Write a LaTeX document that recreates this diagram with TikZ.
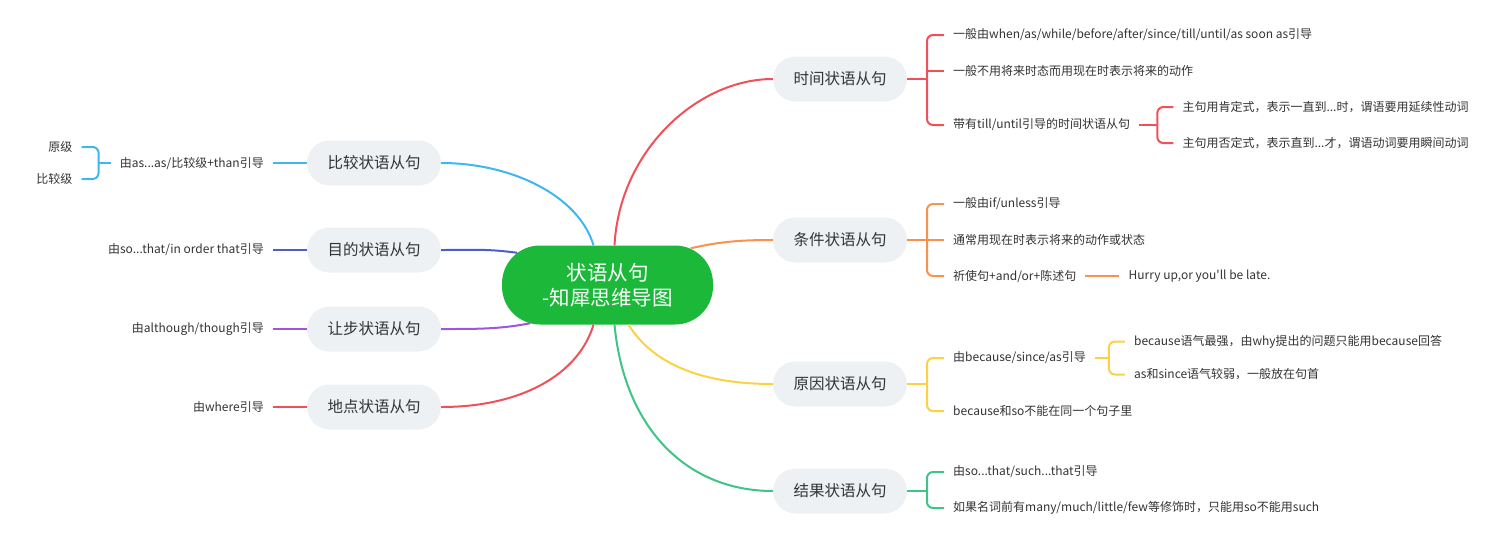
\documentclass[tikz,border=0pt]{standalone}
\usepackage{fontspec}
\setmainfont{Noto Sans CJK SC}[Ligatures=TeXOff]
\usetikzlibrary{positioning,calc}
\definecolor{rootgreen}{HTML}{1BB83A}
\definecolor{pillgray}{HTML}{EEF1F4}
\definecolor{inktext}{HTML}{333333}
\definecolor{mapred}{HTML}{F05159}
\definecolor{mapblue}{HTML}{3DB6F2}
\definecolor{mapindigo}{HTML}{4D5FC7}
\definecolor{mappurple}{HTML}{A056DC}
\definecolor{maporange}{HTML}{F7934C}
\definecolor{mapyellow}{HTML}{FBD243}
\definecolor{mapgreen}{HTML}{3EC585}

\begin{document}
\begin{tikzpicture}[x=1pt,y=-1pt,
    root/.style={fill=rootgreen,text=white,rounded corners=38pt,minimum width=211pt,
                 minimum height=79pt,align=center,font=\fontsize{20.5}{25}\selectfont},
    topic/.style={fill=pillgray,text=inktext,rounded corners=22.5pt,minimum width=134pt,
                  minimum height=45pt,font=\fontsize{15.5}{18}\selectfont},
    leaf/.style={text=inktext,inner xsep=9pt,inner ysep=2pt,font=\fontsize{12}{14}\selectfont},
    rightleaf/.style={leaf,anchor=west},
    leftleaf/.style={leaf,anchor=east},
    link/.style={line width=2pt},
    brace/.style={line width=2pt,rounded corners=6pt}]
  \useasboundingbox (0,0) rectangle (1498,544);

  % centre and main topics
  \node[root] (root) at (607.5,285) {状语从句\\-知犀思维导图};
  \node[topic] (time)   at (840,79)  {时间状语从句};
  \node[topic] (cond)   at (840,240) {条件状语从句};
  \node[topic] (cause)  at (840,384) {原因状语从句};
  \node[topic] (result) at (840,491) {结果状语从句};
  \node[topic] (comp)   at (374,163) {比较状语从句};
  \node[topic] (purp)   at (374,250) {目的状语从句};
  \node[topic] (conc)   at (374,329) {让步状语从句};
  \node[topic] (place)  at (374,407) {地点状语从句};

  \draw[link,mapred] ([xshift=7pt]root.north) .. controls +(5,-95) and +(-75,0) .. (time.west);
  \draw[link,maporange] ($(root.north east)+(-22.5,3)$) .. controls +(30,-7) and +(-30,0) .. (cond.west);
  \draw[link,mapyellow] ([xshift=21pt]root.south) .. controls +(25,40) and +(-70,0) .. (cause.west);
  \draw[link,mapgreen] ([xshift=7pt]root.south) .. controls +(10,105) and +(-85,0) .. (result.west);
  \draw[link,mapblue] ([xshift=-14pt]root.north) .. controls +(-15,-50) and +(70,0) .. (comp.east);
  \draw[link,mapindigo] ($(root.north west)+(15.5,7.5)$) .. controls +(-30,-4) and +(35,0) .. (purp.east);
  \draw[link,mappurple] ($(root.south west)+(28.5,-1.5)$) .. controls +(-30,6) and +(35,0) .. (conc.east);
  \draw[link,mapred] ([xshift=-14pt]root.south) .. controls +(-15,50) and +(80,0) .. (place.east);

  % time
  \node[rightleaf] (t1) at (944,35)  {一般由when/as/while/before/after/since/till/until/as soon as引导};
  \node[rightleaf] (t2) at (944,71)  {一般不用将来时态而用现在时表示将来的动作};
  \node[rightleaf] (t3) at (944,125) {带有till/until引导的时间状语从句};
  \coordinate (tj) at (927,79);
  \draw[brace,mapred] (time.east) -- (tj);
  \draw[brace,mapred] (t1.west) -| (tj) |- (t3.west);
  \draw[brace,mapred] (tj |- t2.west) -- (t2.west);
  \coordinate (t3j) at ($(t3.east)+(18,0)$);
  \node[rightleaf] (t31) at ($(t3j)+(16,-18)$) {主句用肯定式，表示一直到...时，谓语要用延续性动词};
  \node[rightleaf] (t32) at ($(t3j)+(16,18)$)  {主句用否定式，表示直到...才，谓语动词要用瞬间动词};
  \draw[brace,mapred] (t3.east) -- (t3j);
  \draw[brace,mapred] (t31.west) -| (t3j) |- (t32.west);

  % condition
  \node[rightleaf] (c1) at (944,204) {一般由if/unless引导};
  \node[rightleaf] (c2) at (944,240) {通常用现在时表示将来的动作或状态};
  \node[rightleaf] (c3) at (944,276) {祈使句+and/or+陈述句};
  \coordinate (cj) at (927,240);
  \draw[brace,maporange] (cond.east) -- (c2.west);
  \draw[brace,maporange] (c1.west) -| (cj) |- (c3.west);
  \node[rightleaf] (c31) at ($(c3.east)+(34,0)$) {Hurry up,or you'll be late.};
  \draw[brace,maporange] (c3.east) -- (c31.west);

  % cause
  \node[rightleaf] (a1) at (944,358) {由because/since/as引导};
  \node[rightleaf] (a2) at (944,411) {because和so不能在同一个句子里};
  \coordinate (aj) at (927,384);
  \draw[brace,mapyellow] (cause.east) -- (aj);
  \draw[brace,mapyellow] (a1.west) -| (aj) |- (a2.west);
  \coordinate (a1j) at ($(a1.east)+(14,0)$);
  \node[rightleaf] (a11) at ($(a1j)+(16,-16.5)$) {because语气最强，由why提出的问题只能用because回答};
  \node[rightleaf] (a12) at ($(a1j)+(16,16.5)$)  {as和since语气较弱，一般放在句首};
  \draw[brace,mapyellow] (a1.east) -- (a1j);
  \draw[brace,mapyellow] (a11.west) -| (a1j) |- (a12.west);

  % result
  \node[rightleaf] (r1) at (944,472) {由so...that/such...that引导};
  \node[rightleaf] (r2) at (944,508) {如果名词前有many/much/little/few等修饰时，只能用so不能用such};
  \coordinate (rj) at (927,491);
  \draw[brace,mapgreen] (result.east) -- (rj);
  \draw[brace,mapgreen] (r1.west) -| (rj) |- (r2.west);

  % left side
  \node[leftleaf] (p1) at (273,163) {由as...as/比较级+than引导};
  \draw[link,mapblue] (comp.west) -- (p1.east);
  \coordinate (p1j) at ($(p1.west)+(-12,0)$);
  \node[leftleaf] (p11) at ($(p1j)+(-17,-16)$) {原级};
  \node[leftleaf] (p12) at ($(p1j)+(-17,16)$)  {比较级};
  \draw[brace,mapblue] (p1.west) -- (p1j);
  \draw[brace,mapblue] (p11.east) -| (p1j) |- (p12.east);

  \node[leftleaf] (u1) at (273,250) {由so...that/in order that引导};
  \draw[link,mapindigo] (purp.west) -- (u1.east);
  \node[leftleaf] (s1) at (273,329) {由although/though引导};
  \draw[link,mappurple] (conc.west) -- (s1.east);
  \node[leftleaf] (w1) at (273,407) {由where引导};
  \draw[link,mapred] (place.west) -- (w1.east);
\end{tikzpicture}
\end{document}
